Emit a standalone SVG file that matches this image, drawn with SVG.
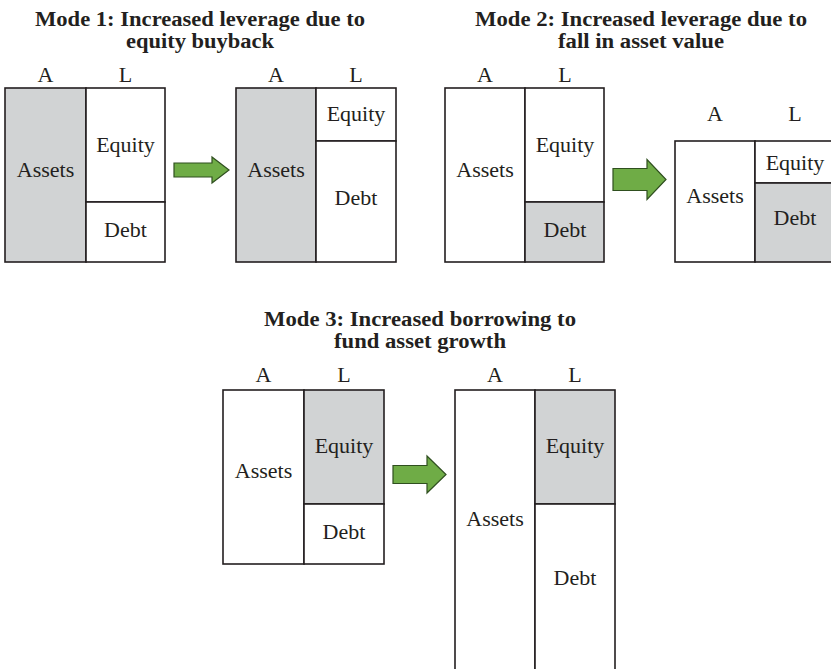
<svg xmlns="http://www.w3.org/2000/svg" width="831" height="669" viewBox="0 0 831 669">
<style>
.bg{fill:#ffffff}
.cell{fill:#ffffff;stroke:#231f20;stroke-width:1.6}
.gray{fill:#d1d3d4;stroke:#231f20;stroke-width:1.6}
.lbl{font-family:"Liberation Serif","Times New Roman",serif;font-size:22px;fill:#231f20;text-anchor:middle}
.ttl{font-family:"Liberation Serif","Times New Roman",serif;font-size:20px;font-weight:bold;fill:#231f20;text-anchor:middle}
.arrow{fill:#6fac46;stroke:#2f4f1f;stroke-width:1.2;stroke-linejoin:miter}
</style>
<rect class="bg" x="0" y="0" width="831" height="669"/>

<g id="titles">
<text class="ttl" x="200" y="26" textLength="330" lengthAdjust="spacingAndGlyphs">Mode 1: Increased leverage due to</text>
<text class="ttl" x="200" y="48" textLength="148" lengthAdjust="spacingAndGlyphs">equity buyback</text>
<text class="ttl" x="641" y="26" textLength="332" lengthAdjust="spacingAndGlyphs">Mode 2: Increased leverage due to</text>
<text class="ttl" x="641" y="48" textLength="166" lengthAdjust="spacingAndGlyphs">fall in asset value</text>
<text class="ttl" x="420" y="326" textLength="312" lengthAdjust="spacingAndGlyphs">Mode 3: Increased borrowing to</text>
<text class="ttl" x="420" y="348" textLength="172" lengthAdjust="spacingAndGlyphs">fund asset growth</text>
</g>

<g id="mode1-before">
<text class="lbl" x="45.5" y="82">A</text>
<text class="lbl" x="125.5" y="82">L</text>
<rect class="gray" x="5" y="88" width="81" height="174"/>
<rect class="cell" x="86" y="88" width="79" height="114"/>
<rect class="cell" x="86" y="202" width="79" height="60"/>
<text class="lbl" x="45.5" y="177">Assets</text>
<text class="lbl" x="125.5" y="152">Equity</text>
<text class="lbl" x="125.5" y="237">Debt</text>
</g>

<g id="mode1-after">
<text class="lbl" x="276" y="82">A</text>
<text class="lbl" x="356" y="82">L</text>
<rect class="gray" x="236" y="88" width="80" height="174"/>
<rect class="cell" x="316" y="88" width="80" height="53"/>
<rect class="cell" x="316" y="141" width="80" height="121"/>
<text class="lbl" x="276" y="177">Assets</text>
<text class="lbl" x="356" y="121">Equity</text>
<text class="lbl" x="356" y="205">Debt</text>
</g>

<g id="mode2-before">
<text class="lbl" x="485" y="82">A</text>
<text class="lbl" x="565" y="82">L</text>
<rect class="cell" x="445" y="88" width="80" height="174"/>
<rect class="cell" x="525" y="88" width="79" height="114"/>
<rect class="gray" x="525" y="202" width="79" height="60"/>
<text class="lbl" x="485" y="177">Assets</text>
<text class="lbl" x="565" y="152">Equity</text>
<text class="lbl" x="565" y="237">Debt</text>
</g>

<g id="mode2-after">
<text class="lbl" x="715" y="121">A</text>
<text class="lbl" x="795" y="121">L</text>
<rect class="cell" x="675" y="141" width="80" height="121"/>
<rect class="cell" x="755" y="141" width="80" height="42"/>
<rect class="gray" x="755" y="183" width="80" height="79"/>
<text class="lbl" x="715" y="203">Assets</text>
<text class="lbl" x="795" y="170">Equity</text>
<text class="lbl" x="795" y="225">Debt</text>
</g>

<g id="mode3-before">
<text class="lbl" x="263.5" y="382">A</text>
<text class="lbl" x="344" y="382">L</text>
<rect class="cell" x="223" y="390" width="81" height="174"/>
<rect class="gray" x="304" y="390" width="80" height="114"/>
<rect class="cell" x="304" y="504" width="80" height="60"/>
<text class="lbl" x="263.5" y="478">Assets</text>
<text class="lbl" x="344" y="453">Equity</text>
<text class="lbl" x="344" y="539">Debt</text>
</g>

<g id="mode3-after">
<text class="lbl" x="495" y="382">A</text>
<text class="lbl" x="575" y="382">L</text>
<rect class="cell" x="455" y="390" width="80" height="285"/>
<rect class="gray" x="535" y="390" width="80" height="114"/>
<rect class="cell" x="535" y="504" width="80" height="171"/>
<text class="lbl" x="495" y="526">Assets</text>
<text class="lbl" x="575" y="453">Equity</text>
<text class="lbl" x="575" y="585">Debt</text>
</g>

<g id="connectors">
<polygon class="arrow" points="174,163 212,163 212,157 229,170 212,183 212,177 174,177"/>
<polygon class="arrow" points="613,168.5 647,168.5 647,159.5 666,179.5 647,199.5 647,190.5 613,190.5"/>
<polygon class="arrow" points="393,465.5 427,465.5 427,456 446,474.5 427,493 427,483.5 393,483.5"/>
</g>
</svg>
